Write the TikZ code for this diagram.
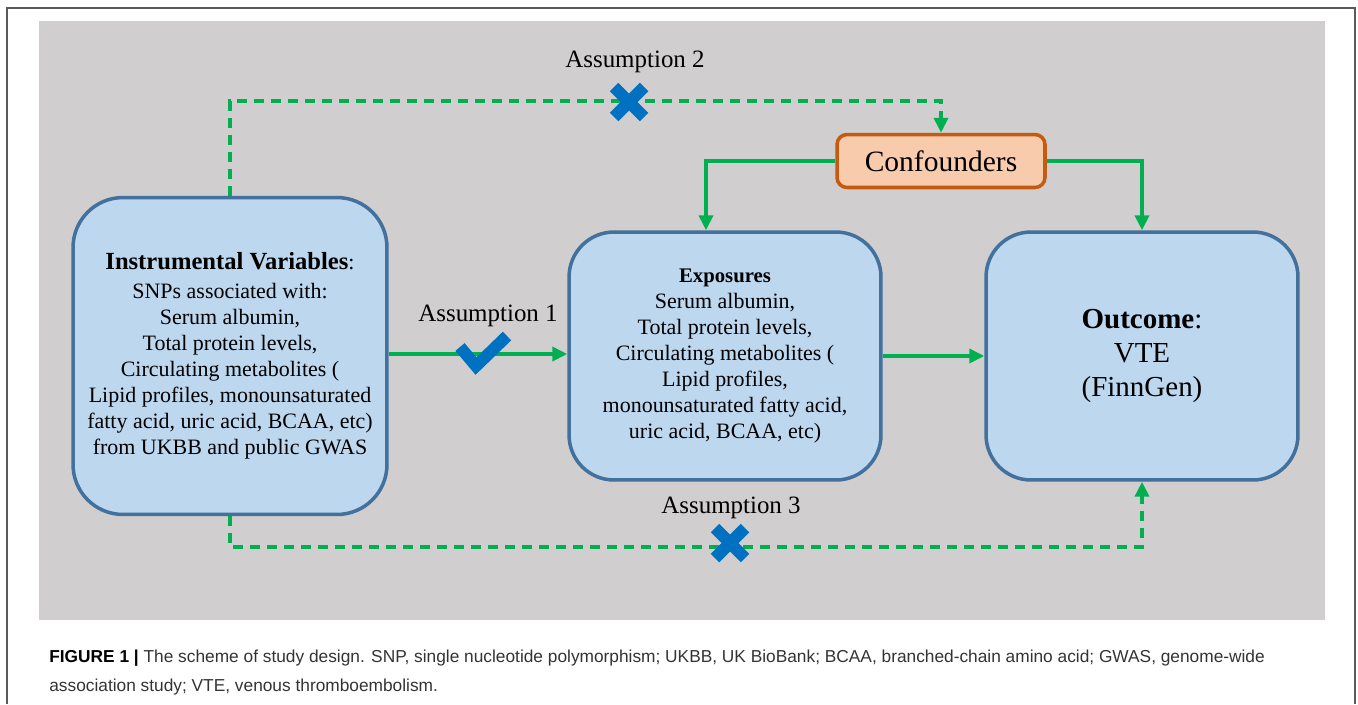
\documentclass[tikz,border=0pt]{standalone}
\usepackage{fontspec}
\setmainfont{Liberation Serif}
\newfontfamily\legendafont{Liberation Sans}
\usetikzlibrary{arrows.meta}

\definecolor{fundo}{HTML}{D0CECE}
\definecolor{azulclaro}{HTML}{BDD7EE}
\definecolor{azulborda}{HTML}{41719C}
\definecolor{laranjaclaro}{HTML}{F8CBAD}
\definecolor{laranjaborda}{HTML}{C55A11}
\definecolor{verde}{HTML}{00B050}
\definecolor{azulmarca}{HTML}{0070C0}
\definecolor{moldura}{HTML}{5A5A5A}
\definecolor{legenda}{HTML}{333333}

\tikzset{
    caixa/.style={draw=azulborda, fill=azulclaro, line width=2pt, align=center, inner sep=0pt},
    confbox/.style={draw=laranjaborda, fill=laranjaclaro, line width=2pt, rounded corners=0.2cm,
        minimum width=4.16cm, minimum height=1.06cm, inner sep=0pt,
        font=\fontsize{16.8}{20}\selectfont},
    seta/.style={-{Triangle[length=0.3cm,width=0.28cm]}, draw=verde, line width=2.2pt},
    tracejada/.style={seta, dash pattern=on 0.2cm off 0.14cm},
    rotulo/.style={font=\fontsize{14.2}{17}\selectfont},
    marca/.style={draw=azulmarca, line width=0.24cm},
}

\begin{document}
\begin{tikzpicture}[x=0.02cm, y=-0.02cm]

    \useasboundingbox (0,0) rectangle (1358,704);

    % Moldura e fundo
    \draw[moldura, line width=0.8pt] (7,704) -- (7,8) -- (1355,8) -- (1355,704);
    \fill[fundo] (39,21) rectangle (1325,620);

    % Nodos principais
    \node[caixa, rounded corners=1cm, minimum width=6.28cm, minimum height=6.34cm,
        font=\fontsize{12.5}{14.8}\selectfont] (iv) at (230,356)
        {{\fontsize{14}{16}\selectfont\bfseries Instrumental Variables}:\\[2pt]
         SNPs associated with:\\
         Serum albumin,\\
         Total protein levels,\\
         Circulating metabolites (\\
         Lipid profiles, monounsaturated\\
         fatty acid, uric acid, BCAA, etc)\\
         from UKBB and public GWAS};
    \node[caixa, rounded corners=0.9cm, minimum width=6.24cm, minimum height=4.96cm,
        font=\fontsize{12.5}{14.8}\selectfont] (exp) at (725,356)
        {{\fontsize{11.8}{14}\selectfont\bfseries Exposures}\\
         Serum albumin,\\
         Total protein levels,\\
         Circulating metabolites (\\
         Lipid profiles,\\
         monounsaturated fatty acid,\\
         uric acid, BCAA, etc)};
    \node[caixa, rounded corners=0.9cm, minimum width=6.24cm, minimum height=4.96cm,
        font=\fontsize{16.5}{19.5}\selectfont] (out) at (1142,356)
        {\textbf{Outcome}:\\
         VTE\\
         (FinnGen)};
    \node[confbox] (conf) at (941,161) {Confounders};

    % Coordenadas das linhas tracejadas
    \coordinate (topo) at (0,101);
    \coordinate (base) at (0,547);

    % Setas principais
    \path[seta] (iv.east |- 0,354) -- (exp.west |- 0,354);
    \path[seta] (exp.east) -- (out.west);
    \path[seta] (conf.west) -| ([xshift=-0.38cm]exp.north);
    \path[seta] (conf.east) -| (out.north);

    % Setas tracejadas
    \path[tracejada] (iv.north) -- (iv.north |- topo) -- (conf.north |- topo) -- (conf.north);
    \path[tracejada] (iv.south) -- (iv.south |- base) -- (out.south |- base) -- (out.south);

    % Rotulos
    \node[rotulo] (a1) at (488,316) {Assumption 1};
    \node[rotulo] (a2) at (635,62) {Assumption 2};
    \node[rotulo] (a3) at (731,508) {Assumption 3};

    % Marcas
    \draw[marca, line join=miter] (460,347) -- (476,366) -- (507,336);
    \draw[marca] (614,87) -- (644,117);
    \draw[marca] (614,117) -- (644,87);
    \draw[marca] (715,528) -- (745,558);
    \draw[marca] (715,558) -- (745,528);

    % Legenda
    \node[anchor=north west, align=left, inner sep=0pt, text=legenda,
        font=\legendafont\fontsize{9.85}{16.5}\selectfont] (leg) at (49,650)
        {\textcolor{black}{\bfseries FIGURE 1 |} The scheme of study design. SNP, single nucleotide polymorphism; UKBB, UK BioBank; BCAA, branched-chain amino acid; GWAS, genome-wide\\
         association study; VTE, venous thromboembolism.};

\end{tikzpicture}
\end{document}
